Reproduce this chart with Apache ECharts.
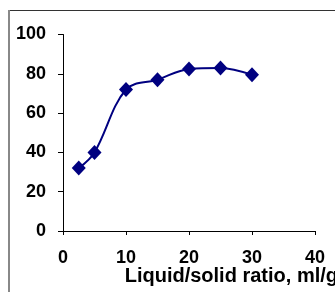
<!DOCTYPE html>
<html>
<head>
<meta charset="utf-8">
<script src="https://cdn.jsdelivr.net/npm/echarts@6/dist/echarts.min.js"></script>
<style>
  html, body { margin: 0; padding: 0; background: #fff; }
  #chart { width: 335px; height: 292px; }
</style>
</head>
<body>
<div id="chart"></div>
<script>
// liquid/solid ratio (ml/g) vs yield
var ratios = [2.5, 5, 10, 15, 20, 25, 30];
var yields = [32, 40, 72, 77, 82.5, 83, 79.5];
var xTicks = [0, 10, 20, 30, 40];
var yTicks = [0, 20, 40, 60, 80, 100];

var points = ratios.map(function (r, i) { return [r, yields[i]]; });
var font = "Liberation Sans, Arial, sans-serif";

var chart = echarts.init(document.getElementById("chart"));
chart.setOption({
  animation: false,
  grid: { left: 63, right: 20, top: 34.5, bottom: 61, outerBoundsMode: "none", containLabel: false },
  graphic: [
    // outer frame (top + left only visible)
    { type: "line", shape: { x1: 9, y1: 10.5, x2: 335, y2: 10.5 }, style: { stroke: "#333", lineWidth: 1 } },
    { type: "line", shape: { x1: 9, y1: 10, x2: 9, y2: 292 }, style: { stroke: "#888", lineWidth: 2 } }
  ],
  xAxis: {
    type: "value",
    min: xTicks[0],
    max: xTicks[xTicks.length - 1],
    interval: 10,
    name: "Liquid/solid ratio, ml/g",
    nameLocation: "end",
    nameGap: 23,
    nameMoveOverlap: false,
    nameTextStyle: {
      fontFamily: font, fontWeight: "bold", fontSize: 20, color: "#000",
      align: "right", verticalAlign: "top", padding: [35, 0, 0, 0]
    },
    axisLine: { lineStyle: { color: "#000", width: 1 } },
    axisTick: { show: true, length: 4, lineStyle: { color: "#000" } },
    axisLabel: { fontFamily: font, fontWeight: "bold", fontSize: 18, color: "#000", margin: 18 },
    splitLine: { show: false }
  },
  yAxis: {
    type: "value",
    min: yTicks[0],
    max: yTicks[yTicks.length - 1],
    interval: 20,
    axisLine: { show: true, lineStyle: { color: "#000", width: 1 } },
    axisTick: { show: true, length: 5, lineStyle: { color: "#000" } },
    axisLabel: { fontFamily: font, fontWeight: "bold", fontSize: 18, color: "#000", margin: 17 },
    splitLine: { show: false }
  },
  series: [
    {
      type: "line",
      data: points,
      smooth: 0.35,
      symbol: "diamond",
      symbolSize: [14, 15],
      lineStyle: { color: "#000080", width: 2 },
      itemStyle: { color: "#000080" }
    }
  ]
});
</script>
</body>
</html>
